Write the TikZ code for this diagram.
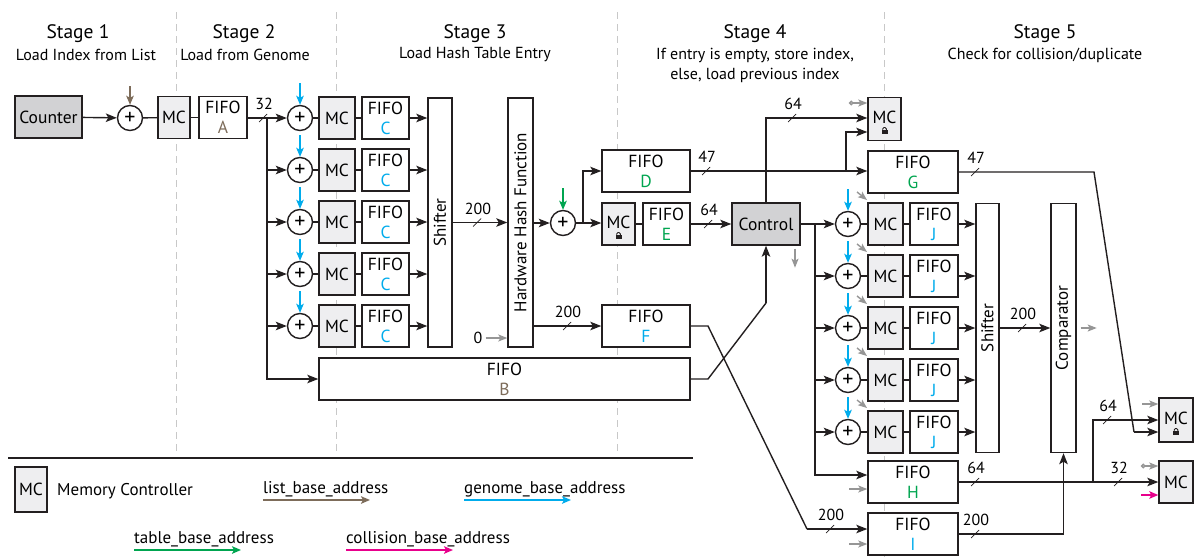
\documentclass[tikz,border=0pt]{standalone}
\usepackage{fontspec}
\setmainfont{PT Sans}
\usetikzlibrary{arrows.meta,calc}
\definecolor{brn}{RGB}{125,108,90}
\definecolor{cyn}{RGB}{0,172,236}
\definecolor{grn}{RGB}{0,165,80}
\definecolor{mag}{RGB}{232,0,140}
\definecolor{gar}{RGB}{150,150,150}
\definecolor{dgray}{RGB}{210,210,212}
\definecolor{lgray}{RGB}{238,238,240}
\definecolor{ln}{RGB}{35,31,32}
\definecolor{dash}{RGB}{200,200,200}
\tikzset{
 blk/.style={draw=ln, line width=1.4pt, fill=white, inner sep=0pt, align=center, font=\fontsize{17.5}{20}\selectfont},
 fifo/.style={blk},
 mcbox/.style={blk, fill=lgray},
 ctlbox/.style={blk, fill=dgray},
 lockmc/.style={mcbox, path picture={
   \coordinate (lk) at ([yshift=-12.5pt]path picture bounding box.center);
   \fill[ln] ([xshift=-3pt,yshift=-2.5pt]lk) rectangle ([xshift=3pt,yshift=1.5pt]lk);
   \draw[ln,line width=0.9pt,rounded corners=1.2pt] ([xshift=-1.8pt,yshift=1.5pt]lk) -- ([xshift=-1.8pt,yshift=4pt]lk) -- ([xshift=1.8pt,yshift=4pt]lk) -- ([xshift=1.8pt,yshift=1.5pt]lk);}},
 adder/.style={circle, draw=ln, line width=1.4pt, fill=white, minimum size=25pt, inner sep=0pt, font=\fontsize{22}{22}\selectfont},
 vtext/.style={rotate=90, font=\fontsize{17}{18}\selectfont},
 wire/.style={draw=ln, line width=1.4pt},
 arr/.style={wire, -{Stealth[length=11pt,width=8.5pt,inset=2.5pt]}},
 garr/.style={draw=gar, line width=1.4pt, -{Stealth[length=9pt,width=7pt,inset=2pt]}},
 gcirc/.style={draw=gar, line width=1.4pt, {Circle[open,length=4.5pt,width=4.5pt,fill=white]}-{Stealth[length=9pt,width=7pt,inset=2pt]}},
 carr/.style={draw=cyn, line width=1.6pt, -{Stealth[length=9pt,width=7.5pt,inset=2pt]}},
 brarr/.style={draw=brn, line width=1.6pt, -{Stealth[length=9pt,width=7.5pt,inset=2pt]}},
 grarr/.style={draw=grn, line width=1.6pt, -{Stealth[length=9pt,width=7.5pt,inset=2pt]}},
 magarr/.style={draw=mag, line width=1.6pt, -{Stealth[length=9pt,width=7.5pt,inset=2pt]}},
 lbl/.style={font=\fontsize{16}{16}\selectfont, inner sep=0pt},
 ttl/.style={font=\fontsize{19.5}{20}\selectfont, inner sep=0pt},
 sub/.style={font=\fontsize{16}{20}\selectfont, inner sep=0pt, align=center},
 leg/.style={font=\fontsize{17}{18}\selectfont, inner sep=0pt, anchor=base west},
 stagesep/.style={draw=dash, line width=1pt, dash pattern=on 7pt off 5pt},
}
\newcommand\busw[4]{\draw[ln,line width=0.7pt] ({#1-4},{#2+4}) -- ({#1+4},{#2-4});
 \node[lbl] (#4) at ({#1+1},{#2-14}) {#3};}
\begin{document}
\begin{tikzpicture}[x=1pt,y=-1pt]
\useasboundingbox (0,0) rectangle (1196,557);
% stage separators
\draw[stagesep] (176,12) -- (176,455);
\draw[stagesep] (336,12) -- (336,455);
\draw[stagesep] (617,12) -- (617,455);
\draw[stagesep] (884,12) -- (884,557);
% headings
\node[ttl] (s1) at (78,34) {Stage 1};
\node[sub] (s1b) at (86,55) {Load Index from List};
\node[ttl] (s2) at (244,34) {Stage 2};
\node[sub] (s2b) at (245,55) {Load from Genome};
\node[ttl] (s3) at (475,34) {Stage 3};
\node[sub] (s3b) at (475,55) {Load Hash Table Entry};
\node[ttl] (s4) at (755,34) {Stage 4};
\node[sub] (s4b) at (755,55) {If entry is empty, store index,};
\node[sub] (s4c) at (755,75) {else, load previous index};
\node[ttl] (s5) at (1045,34) {Stage 5};
\node[sub] (s5b) at (1045,55) {Check for collision/duplicate};

% ---------- Stage 1
\node[ctlbox, minimum width=67pt, minimum height=42pt] (cnt) at (48.5,117) {Counter};
\node[adder] (p1) at (130,118) {+};
\node[mcbox, minimum width=32pt, minimum height=42pt] (mc1) at (174,117.5) {MC};
\node[fifo, minimum width=48pt, minimum height=42pt] (fa) at (223,117.5) {FIFO\\\textcolor{brn}{A}};
\draw[arr] (cnt) -- (p1);
\draw[brarr] (130,86) -- (p1.north);
\draw[wire] (p1) -- (mc1);
\draw[wire] (mc1) -- (fa);

% ---------- Stage 2
\coordinate (bl) at (267,118);
\foreach \i/\y in {0/118,1/170,2/222,3/274,4/326} {
  \node[adder] (p2\i) at (300,\y) {+};
  \node[mcbox, minimum width=36pt, minimum height=42pt] (m2\i) at (337,\y) {MC};
  \node[fifo, minimum width=47pt, minimum height=42pt] (c2\i) at (385.5,\y) {FIFO\\\textcolor{cyn}{C}};
  \draw[wire] (p2\i) -- (m2\i);
  \draw[wire] (m2\i) -- (c2\i);
  \draw[carr] (300,{\y-35}) -- (p2\i.north);
}
\node[blk, minimum width=24pt, minimum height=249pt] (sh2) at (440,222.5) {};
\node[vtext] (sh2t) at (sh2.center) {Shifter};
\foreach \i in {0,...,4} { \draw[arr] (c2\i.east) -- (c2\i.east -| sh2.west); }
\draw[arr] (fa.east |- bl) -- (p20.west);
\busw{263}{118}{32}{l32}
\foreach \i in {1,...,4} { \draw[arr] (p2\i.west -| bl) -- (p2\i.west); }
\node[fifo, minimum width=371pt, minimum height=42pt] (fb) at (504.5,379) {FIFO\\\textcolor{brn}{B}};
\draw[arr] (bl) |- (fb.west);

% ---------- Stage 3
\node[blk, minimum width=25pt, minimum height=249pt] (hash) at (520.5,222.5) {};
\node[vtext] (hasht) at (hash.center) {Hardware Hash Function};
\draw[arr] (sh2.east) -- (sh2.east -| hash.west);
\busw{477}{222.5}{200}{l200a}
\node[lbl] (zero) at (478,338) {0};
\draw[garr] ([xshift=3pt]zero.east) -- (zero -| hash.west);
\node[adder] (ph) at (563,223) {+};
\draw[arr] (hash.east |- ph) -- (ph.west);
\draw[grarr] (563,188) -- (ph.north);
\node[fifo, minimum width=88pt, minimum height=42pt] (fd) at (646,171) {FIFO\\\textcolor{grn}{D}};
\node[lockmc, minimum width=33pt, minimum height=42pt] (me) at (618.5,224) {\raisebox{4pt}{MC}};
\node[fifo, minimum width=47pt, minimum height=42pt] (fe) at (666.5,224) {FIFO\\\textcolor{grn}{E}};
\node[fifo, minimum width=88pt, minimum height=42pt] (ff) at (646,326) {FIFO\\\textcolor{cyn}{F}};
\coordinate (sp) at (583,223);
\draw[wire] (ph.east) -- (sp);
\draw[arr] (sp) -- (sp -| me.west);
\draw[arr] (sp) |- (fd.west);
\draw[wire] (me) -- (fe);
\draw[arr] (hash.east |- ff.west) -- (ff.west);
\busw{567}{326}{200}{l200b}

% ---------- Stage 4
\node[ctlbox, minimum width=68pt, minimum height=42pt] (ctl) at (766,224) {Control};
\draw[arr] (fe.east) -- (ctl.west);
\busw{708}{224}{64}{l64a}
\node[lockmc, minimum width=33pt, minimum height=43pt] (mct) at (884.5,119) {\raisebox{4pt}{MC}};
\node[fifo, minimum width=90pt, minimum height=42pt] (fg) at (913,172) {FIFO\\\textcolor{grn}{G}};
\draw[arr] (fd.east) -- (fd.east -| fg.west);
\busw{706}{171}{47}{l47a}
\coordinate (gb) at (846,171);
\draw[arr] (gb) |- ([yshift=-13pt]mct.west);
\draw[arr] (ctl.north) |- ([yshift=1pt]mct.west);
\busw{792}{118}{64}{l64b}
\coordinate (gc1) at (849,103);
\draw[gcirc] (gc1) -- (gc1 -| mct.west);
\draw[garr] ([xshift=29pt,yshift=-3pt]ctl.south) -- ++(0,19);
% B and F outputs
\coordinate (bk1) at (708,379);
\coordinate (bk2) at (766,303);
\draw[wire] (fb.east |- bk1) -- (bk1) -- (bk2);
\draw[arr] (bk2) -- (ctl.south);
\coordinate (fk1) at (708,326);
\coordinate (fk2) at (807,529);

% ---------- Stage 5
\coordinate (cb) at (815,224);
\draw[wire] (ctl.east) -- (cb);
\foreach \i/\y in {0/224,1/276,2/328,3/380,4/432} {
  \node[adder] (p5\i) at (848,\y) {+};
  \node[mcbox, minimum width=35pt, minimum height=42pt] (m5\i) at (885.5,\y) {MC};
  \node[fifo, minimum width=48pt, minimum height=42pt] (j5\i) at (934,\y) {FIFO\\\textcolor{cyn}{J}};
  \draw[wire] (p5\i) -- (m5\i);
  \draw[wire] (m5\i) -- (j5\i);
  \draw[carr] (848,{\y-35}) -- (p5\i.north);
  \draw[garr] (857,{\y-32}) -- (867,{\y-24});
  \draw[arr] (p5\i.west -| cb) -- (p5\i.west);
}
\node[blk, minimum width=23pt, minimum height=249pt] (sh5) at (987.5,328) {};
\node[vtext] (sh5t) at (sh5.center) {Shifter};
\foreach \i in {0,...,4} { \draw[arr] (j5\i.east) -- (j5\i.east -| sh5.west); }
\node[blk, minimum width=25pt, minimum height=249pt] (comp) at (1063.5,328) {};
\node[vtext] (compt) at (comp.center) {Comparator};
\draw[arr] (sh5.east) -- (sh5.east -| comp.west);
\busw{1022}{328}{200}{l200c}
\draw[garr] ([xshift=4pt]comp.east) -- ++(16,0);

\node[fifo, minimum width=90pt, minimum height=42pt] (fh) at (913,482) {FIFO\\\textcolor{grn}{H}};
\node[fifo, minimum width=90pt, minimum height=42pt] (fi) at (913,534) {FIFO\\\textcolor{cyn}{I}};
\draw[arr] (cb) |- ([yshift=7pt]fh.west);
\draw[garr] (849,489) -- ([yshift=-7pt]fh.west);
\draw[garr] (849,544) -- ([yshift=-10pt]fi.west);
\draw[wire] (ff.east |- fk1) -- (fk1) -- (fk2);
\draw[arr] (fk2) -- (fk2 -| fi.west);
\busw{830}{529}{200}{l200d}

\node[lockmc, minimum width=34pt, minimum height=44pt] (mr1) at (1176,420) {\raisebox{4pt}{MC}};
\node[mcbox, minimum width=34pt, minimum height=42pt] (mr2) at (1176,482) {MC};
\coordinate (gk1) at (1094,172);
\coordinate (gk2) at (1134,432);
\draw[wire] (fg.east) -- (gk1) -- (gk2);
\draw[arr] (gk2) -- (gk2 -| mr1.west);
\busw{975}{172}{47}{l47b}
\draw[arr] (fh.east) -- (mr2.west);
\busw{975}{482}{64}{l64c}
\busw{1118}{482}{32}{l32b}
\coordinate (hk) at (1093,482);
\draw[arr] (hk) |- (mr1.west);
\busw{1107}{420}{64}{l64d}
\coordinate (g4) at (1142,404);
\draw[garr] (g4) -- (g4 -| mr1.west);
\coordinate (g5) at (1141,466);
\draw[gcirc] (g5) -- (g5 -| mr2.west);
\coordinate (m5) at (1141,495);
\draw[magarr] (m5) -- (m5 -| mr2.west);
\draw[arr] (fi.east) -| (comp.south);
\busw{975}{534}{200}{l200e}

% ---------- Legend
\draw[ln, line width=1.4pt] (8,458) -- (693,458);
\node[mcbox, minimum width=32pt, minimum height=45pt] (lmc) at (31,489.5) {MC};
\node[leg] (lmct) at (57,495) {Memory Controller};
\node[leg] (ll) at (263,493) {list\_base\_address};
\draw[brarr] (263,500) -- (370,500);
\node[leg] (lg) at (464,493) {genome\_base\_address};
\draw[carr] (464,500) -- (571,500);
\node[leg] (lt) at (134,543) {table\_base\_address};
\draw[grarr] (134,550) -- (241,550);
\node[leg] (lc) at (346,543) {collision\_base\_address};
\draw[magarr] (346,550) -- (453,550);
\end{tikzpicture}
\end{document}
